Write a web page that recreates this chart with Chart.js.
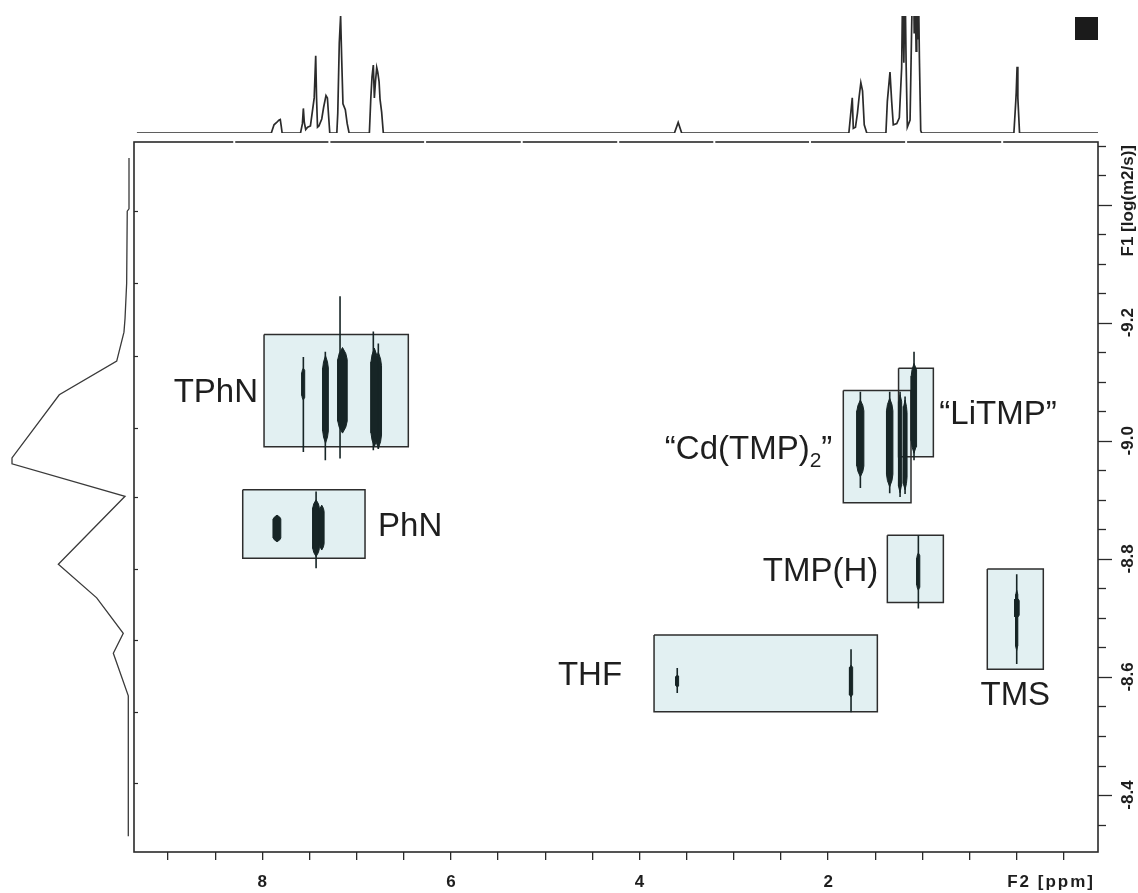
<!DOCTYPE html>
<html>
<head>
<meta charset="utf-8">
<script src="https://cdn.jsdelivr.net/npm/chart.js@4.4.1/dist/chart.umd.min.js"></script>
<style>
  html, body { margin: 0; padding: 0; background: #fff; }
  #wrap { position: relative; width: 1138px; height: 893px; overflow: hidden; background: #fff; }
  #wrap canvas { position: absolute; left: 0; top: 0; }
  #mark { position: absolute; left: 1075px; top: 17px; width: 23px; height: 23px; background: #1b1b1b; }
</style>
</head>
<body>
<div id="wrap">
  <canvas id="main" width="1138" height="893"></canvas>
  <canvas id="proj" width="134" height="893"></canvas>
  <canvas id="spec" width="1138" height="142"></canvas>
  <div id="mark"></div>
</div>
<script>
// ---- axes ----
const f2Range = [9.361, -0.862];           // ppm, left -> right
const f1Range = [-9.5061, -8.3035];        // log(m2/s), top -> bottom
const f2Ticks = [9, 8.5, 8, 7.5, 7, 6.5, 6, 5.5, 5, 4.5, 4, 3.5, 3, 2.5, 2, 1.5, 1, 0.5, 0, -0.5];
const f2Labelled = [8, 6, 4, 2];
const f1Ticks = [-9.5, -9.45, -9.4, -9.35, -9.3, -9.25, -9.2, -9.15, -9.1, -9.05, -9.0, -8.95,
                 -8.9, -8.85, -8.8, -8.75, -8.7, -8.65, -8.6, -8.55, -8.5, -8.45, -8.4, -8.35];
const f1Major = [-9.4, -9.2, -9.0, -8.8, -8.6, -8.4];
const f1Labelled = [-9.2, -9.0, -8.8, -8.6, -8.4];
const topRuleBreaks = [8.298, 7.289, 6.274, 5.249, 4.226, 3.207, 2.192, 1.173, 0.154];
const leftRuleMarks = [-9.389, -9.267, -9.143, -9.021, -8.904, -8.782, -8.662, -8.541, -8.421];

// ---- 1H spectrum (F2 projection, relative intensity) ----
const specPpm = [9.33, 7.905, 7.876, 7.848, 7.825, 7.81, 7.80, 7.79,
  7.595, 7.575, 7.565, 7.555, 7.54, 7.52, 7.49, 7.45, 7.434, 7.425, 7.415, 7.40, 7.37, 7.35, 7.325, 7.31, 7.295, 7.285,
  7.21, 7.20, 7.184, 7.17, 7.158, 7.145, 7.12, 7.10, 7.08,
  6.865, 6.85, 6.837, 6.823, 6.812, 6.80, 6.787, 6.776, 6.762, 6.752, 6.735, 6.717,
  3.63, 3.59, 3.553,
  1.78, 1.762, 1.744, 1.733, 1.71, 1.689, 1.671, 1.653, 1.635, 1.617, 1.59,
  1.387, 1.372, 1.344, 1.326, 1.309, 1.272, 1.245, 1.22, 1.209, 1.197, 1.184, 1.173, 1.16,
  1.131, 1.113, 1.105, 1.096, 1.087, 1.078, 1.067, 1.06, 1.05, 1.043, 1.032, 1.018, 1.008,
  0.03, 0.01, 0.005, -0.004, -0.012, -0.03, -0.862];
const specInt = [0, 0, 0.07, 0.09, 0.11, 0.115, 0.06, 0,
  0, 0.08, 0.21, 0.09, 0.03, 0.05, 0.06, 0.30, 0.66, 0.30, 0.05, 0.06, 0.12, 0.22, 0.32, 0.30, 0.12, 0,
  0, 0.17, 0.77, 1.0, 0.62, 0.25, 0.20, 0.08, 0,
  0, 0.29, 0.48, 0.58, 0.30, 0.44, 0.56, 0.52, 0.44, 0.29, 0.18, 0,
  0, 0.09, 0,
  0, 0.15, 0.30, 0.04, 0.05, 0.17, 0.31, 0.43, 0.36, 0.07, 0,
  0, 0.27, 0.52, 0.27, 0.07, 0.08, 0.13, 0.56, 1.3, 0.6, 1.3, 0.6, 0.05,
  0.11, 0.95, 1.3, 1.5, 0.85, 1.3, 0.7, 1.3, 0.8, 1.3, 0.64, 0.02, 0,
  0, 0.27, 0.35, 0.567, 0.3, 0, 0];

// ---- diffusion projection (F1, relative intensity) ----
const projLogD = [-9.479, -9.393, -9.389, -9.267, -9.207, -9.184, -9.135, -9.078, -8.971, -8.961,
  -8.906, -8.791, -8.734, -8.674, -8.640, -8.568, -8.330];
const projInt = [0, 0, 0.015, 0.02, 0.034, 0.043, 0.105, 0.596, 1.0, 1.0,
  0.034, 0.604, 0.276, 0.049, 0.134, 0.006, 0.006];

// ---- species boxes ----
const boxNames = ['TPhN', 'PhN', 'Cd(TMP)2', 'LiTMP', 'TMP(H)', 'TMS', 'THF'];
const boxPpmLeft = [7.982, 8.208, 1.839, 1.253, 1.372, 0.312, 3.846];
const boxPpmRight = [6.452, 6.911, 1.121, 0.884, 0.778, -0.282, 1.478];
const boxLogDTop = [-9.180, -8.917, -9.085, -9.123, -8.840, -8.783, -8.671];
const boxLogDBottom = [-8.990, -8.801, -8.895, -8.973, -8.726, -8.613, -8.541];

// ---- cross peaks: thin streaks and dense cores ----
const streakPpm = [7.565, 7.332, 7.176, 6.823, 6.770, 7.43, 1.658, 1.347, 1.237, 1.184, 1.089, 1.043, 0.0, 3.60, 1.757];
const streakTop = [-9.142, -9.151, -9.245, -9.185, -9.165, -8.914, -9.083, -9.083, -9.083, -9.075, -9.151, -8.840, -8.774, -8.615, -8.647];
const streakBottom = [-8.981, -8.967, -8.970, -8.984, -8.986, -8.784, -8.920, -8.911, -8.905, -8.910, -8.967, -8.716, -8.622, -8.573, -8.540];

const corePpm = [7.565, 7.330, 7.150, 6.812, 6.77, 7.844, 7.43, 7.37, 1.658, 1.347, 1.237, 1.184, 1.089, 1.043, 0.0, 0.0, 3.60, 1.757];
const coreTop = [-9.123, -9.144, -9.158, -9.157, -9.150, -8.874, -8.900, -8.891, -9.069, -9.072, -9.078, -9.069, -9.131, -8.810, -8.747, -8.734, -8.603, -8.620];
const coreBottom = [-9.069, -8.996, -9.013, -8.990, -8.987, -8.829, -8.804, -8.815, -8.939, -8.922, -8.912, -8.917, -8.979, -8.747, -8.645, -8.700, -8.583, -8.566];
const coreHalfWidth = [0.016, 0.030, 0.050, 0.036, 0.034, 0.040, 0.035, 0.025, 0.037, 0.034, 0.019, 0.021, 0.030, 0.017, 0.013, 0.026, 0.016, 0.019];

// ---- styling ----
const ink = '#172526';
const frameColor = '#2a2a2a';
const boxFill = '#e2f0f2';
const boxEdge = '#2d2d2d';
const textColor = '#1e1e1e';
const axisFont = 'bold 17px "Liberation Sans", Arial, sans-serif';
const labelFontSize = 33;
const labelFamily = '"Liberation Sans", Arial, sans-serif';

// label placement beside each box: side and gap in px
const labelPlacement = [
  { side: 'left', gap: 6 }, { side: 'right', gap: 13 }, { side: 'left', gap: 11 },
  { side: 'right', gap: 6 }, { side: 'left', gap: 9 }, { side: 'below', gap: 24 }, { side: 'left', gap: 32 }
];

function rectPoints(i) {
  const l = boxPpmLeft[i], r = boxPpmRight[i], t = boxLogDTop[i], b = boxLogDBottom[i];
  return [{x: l, y: t}, {x: r, y: t}, {x: r, y: b}, {x: l, y: b}, {x: l, y: t}];
}
// elongated contour outline: pointed ends, near-constant width in the middle
function spindle(p, t, b, hw) {
  const k = 0.14 * (b - t);
  return [{x: p, y: t}, {x: p + hw * 0.7, y: t + k * 0.5}, {x: p + hw, y: t + k}, {x: p + hw, y: b - k},
          {x: p + hw * 0.7, y: b - k * 0.5}, {x: p, y: b},
          {x: p - hw * 0.7, y: b - k * 0.5}, {x: p - hw, y: b - k}, {x: p - hw, y: t + k},
          {x: p - hw * 0.7, y: t + k * 0.5}, {x: p, y: t}];
}

const mainSets = [];
corePpm.forEach((p, i) => mainSets.push({
  data: spindle(p, coreTop[i], coreBottom[i], coreHalfWidth[i]),
  fill: 'shape', backgroundColor: ink, borderColor: ink, borderWidth: 1, order: 0
}));
streakPpm.forEach((p, i) => mainSets.push({
  data: [{x: p, y: streakTop[i]}, {x: p, y: streakBottom[i]}],
  fill: false, borderColor: ink, borderWidth: 1.6, order: 0
}));
boxNames.forEach((n, i) => mainSets.push({
  data: rectPoints(i), fill: false, borderColor: boxEdge, borderWidth: 1.5, order: 1
}));
boxNames.forEach((n, i) => mainSets.push({
  data: rectPoints(i), fill: 'shape', backgroundColor: boxFill, borderColor: 'rgba(0,0,0,0)', borderWidth: 0, order: 2
}));

function drawBoxLabels(chart) {
  const ctx = chart.ctx, xs = chart.scales.x, ys = chart.scales.y;
  ctx.save();
  ctx.fillStyle = textColor;
  ctx.textBaseline = 'alphabetic';
  const big = labelFontSize + 'px ' + labelFamily;
  const small = Math.round(labelFontSize * 0.64) + 'px ' + labelFamily;
  const capHalf = labelFontSize * 0.358;
  boxNames.forEach((name, i) => {
    const xl = xs.getPixelForValue(boxPpmLeft[i]);
    const xr = xs.getPixelForValue(boxPpmRight[i]);
    const yt = ys.getPixelForValue(boxLogDTop[i]);
    const yb = ys.getPixelForValue(boxLogDBottom[i]);
    const pl = labelPlacement[i];
    let pieces;
    if (name === 'Cd(TMP)2') pieces = [['\u201cCd(TMP)', false], ['2', true], ['\u201d', false]];
    else if (name === 'LiTMP') pieces = [['\u201cLiTMP\u201d', false]];
    else pieces = [[name, false]];
    let w = 0;
    pieces.forEach(([t, sub]) => { ctx.font = sub ? small : big; w += ctx.measureText(t).width; });
    let x0, base;
    if (pl.side === 'left') { x0 = xl - pl.gap - w; base = (yt + yb) / 2 + capHalf; }
    else if (pl.side === 'right') { x0 = xr + pl.gap; base = (yt + yb) / 2 + capHalf; }
    else { x0 = (xl + xr) / 2 - w / 2; base = yb + pl.gap + capHalf; }
    pieces.forEach(([t, sub]) => {
      ctx.font = sub ? small : big;
      ctx.fillText(t, x0, sub ? base + 8 : base);
      x0 += ctx.measureText(t).width;
    });
  });
  ctx.restore();
}

const framePlugin = {
  id: 'frame',
  afterDraw(chart) {
    const ctx = chart.ctx, a = chart.chartArea, xs = chart.scales.x, ys = chart.scales.y;
    ctx.save();
    // plot frame
    ctx.strokeStyle = frameColor;
    ctx.lineWidth = 1.6;
    ctx.strokeRect(a.left, a.top, a.right - a.left, a.bottom - a.top);
    // breaks in the top rule
    ctx.fillStyle = '#fff';
    topRuleBreaks.forEach(p => {
      const x = xs.getPixelForValue(p);
      ctx.fillRect(x - 1, a.top - 1.5, 2, 3);
    });
    // small marks on the left rule
    ctx.lineWidth = 1.2;
    leftRuleMarks.forEach(v => {
      const y = Math.round(ys.getPixelForValue(v)) + 0.5;
      ctx.beginPath(); ctx.moveTo(a.left, y); ctx.lineTo(a.left + 4, y); ctx.stroke();
    });
    // F1 ticks on the right
    ctx.lineWidth = 1.3;
    f1Ticks.forEach(v => {
      const y = Math.round(ys.getPixelForValue(v)) + 0.5;
      const major = f1Major.some(m => Math.abs(m - v) < 1e-6);
      ctx.beginPath(); ctx.moveTo(a.right, y); ctx.lineTo(a.right + (major ? 14 : 8), y); ctx.stroke();
    });
    // F1 labels, rotated
    ctx.fillStyle = textColor;
    ctx.font = axisFont;
    ctx.textBaseline = 'middle';
    f1Labelled.forEach(v => {
      const y = ys.getPixelForValue(v);
      ctx.save();
      ctx.translate(a.right + 30, y);
      ctx.rotate(-Math.PI / 2);
      ctx.textAlign = 'center';
      ctx.fillText(v.toFixed(1), 0, 0);
      ctx.restore();
    });
    ctx.save();
    ctx.translate(a.right + 30, a.top + 3);
    ctx.rotate(-Math.PI / 2);
    ctx.textAlign = 'right';
    ctx.fillText('F1 [log(m2/s)]', 0, 0);
    ctx.restore();
    // F2 title, slightly tracked out
    ctx.textAlign = 'right';
    ctx.textBaseline = 'alphabetic';
    if ('letterSpacing' in ctx) ctx.letterSpacing = '2px';
    ctx.fillText('F2 [ppm]', a.right - 3, 887);
    if ('letterSpacing' in ctx) ctx.letterSpacing = '0px';
    ctx.restore();
    drawBoxLabels(chart);
  }
};

new Chart(document.getElementById('main'), {
  type: 'line',
  data: { datasets: mainSets },
  options: {
    responsive: false, animation: false, events: [], devicePixelRatio: 1,
    layout: { padding: { left: 134, top: 142, right: 0, bottom: 0 } },
    elements: { point: { radius: 0 }, line: { tension: 0 } },
    plugins: { legend: { display: false }, tooltip: { enabled: false } },
    scales: {
      x: {
        type: 'linear', reverse: true, min: f2Range[1], max: f2Range[0],
        afterBuildTicks: s => { s.ticks = f2Ticks.map(v => ({ value: v })); },
        afterFit: s => { s.height = 41; },
        grid: { drawOnChartArea: false, drawTicks: true, tickLength: 8, color: frameColor, lineWidth: 1.3 },
        border: { display: false },
        ticks: {
          autoSkip: false, maxRotation: 0, padding: 12, color: textColor,
          font: { family: '"Liberation Sans", Arial, sans-serif', size: 17, weight: 'bold' },
          callback: v => f2Labelled.includes(v) ? String(v) : ''
        }
      },
      y: {
        type: 'linear', position: 'right', reverse: true, min: f1Range[0], max: f1Range[1],
        afterFit: s => { s.width = 40; },
        grid: { display: false }, border: { display: false }, ticks: { display: false }
      }
    }
  },
  plugins: [framePlugin]
});

// 1H spectrum along the top
new Chart(document.getElementById('spec'), {
  type: 'line',
  data: { datasets: [{
    data: specPpm.map((p, i) => ({ x: p, y: specInt[i] })),
    borderColor: '#2b2b2b', borderWidth: 1.7, fill: false
  }] },
  options: {
    responsive: false, animation: false, events: [], devicePixelRatio: 1,
    layout: { padding: { left: 134, right: 40, top: 16, bottom: 9 } },
    elements: { point: { radius: 0 }, line: { tension: 0 } },
    plugins: { legend: { display: false }, tooltip: { enabled: false } },
    scales: {
      x: { type: 'linear', reverse: true, min: f2Range[1], max: f2Range[0], display: false },
      y: { type: 'linear', min: 0, max: 1, display: false }
    }
  }
});

// diffusion projection along the left
new Chart(document.getElementById('proj'), {
  type: 'line',
  data: { datasets: [{
    data: projLogD.map((v, i) => ({ x: projInt[i], y: v })),
    borderColor: '#3a3a3a', borderWidth: 1.3, fill: false, clip: false
  }] },
  options: {
    responsive: false, animation: false, events: [], devicePixelRatio: 1,
    layout: { padding: { left: 12, right: 5, top: 142, bottom: 41 } },
    elements: { point: { radius: 0 }, line: { tension: 0 } },
    plugins: { legend: { display: false }, tooltip: { enabled: false } },
    scales: {
      x: { type: 'linear', reverse: true, min: 0, max: 1, display: false },
      y: { type: 'linear', reverse: true, min: f1Range[0], max: f1Range[1], display: false }
    }
  }
});
</script>
</body>
</html>
